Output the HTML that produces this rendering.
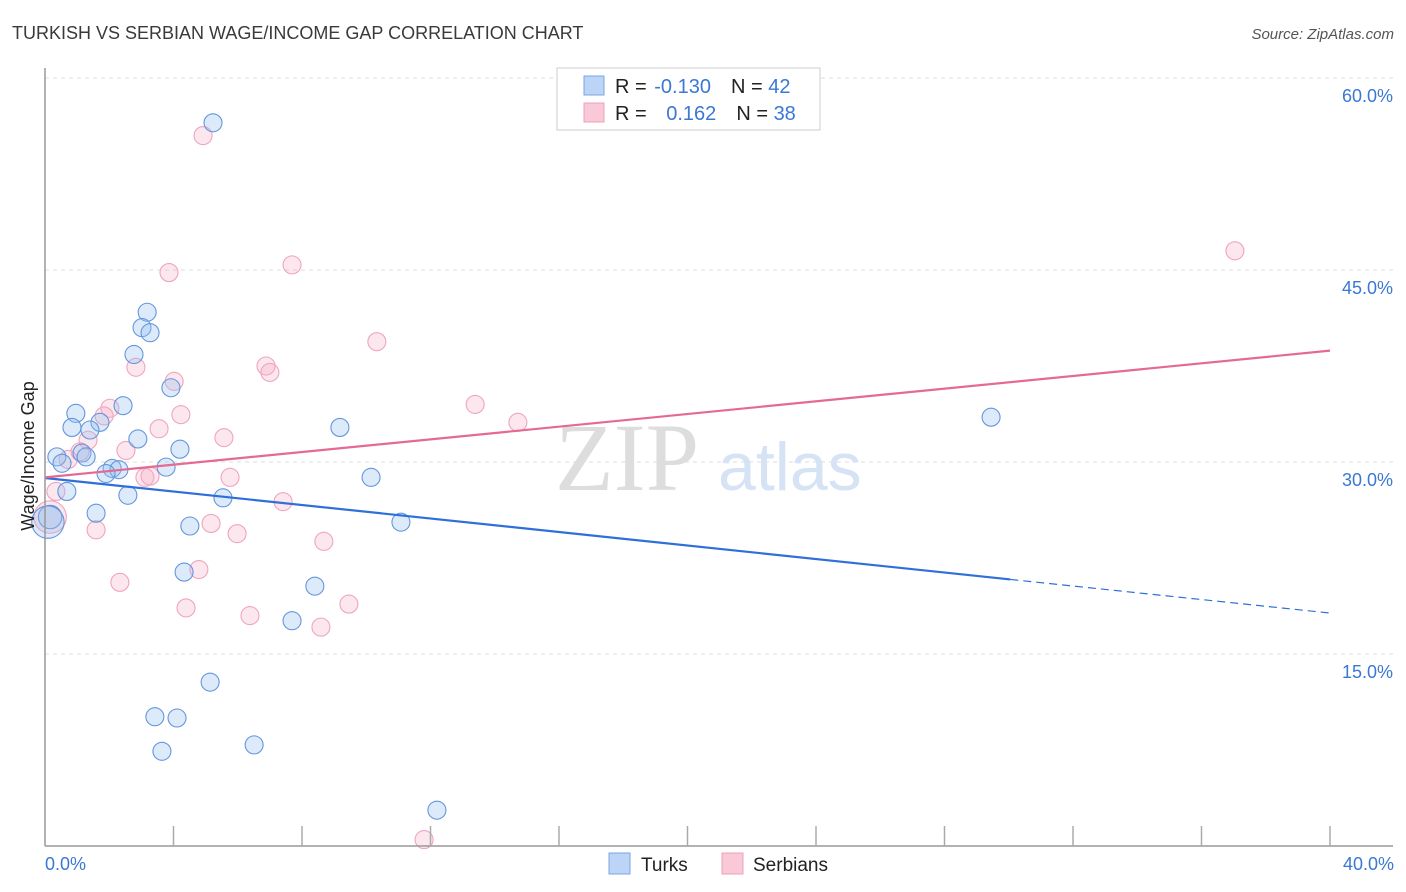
<!DOCTYPE html>
<html><head><meta charset="utf-8"><style>
body{margin:0;background:#fff;font-family:"Liberation Sans",sans-serif;}
svg{display:block}
</style></head><body>
<svg width="1406" height="892" xmlns="http://www.w3.org/2000/svg">
<text x="12" y="39" font-size="18" fill="#3a3a3a">TURKISH VS SERBIAN WAGE/INCOME GAP CORRELATION CHART</text>
<text x="1394" y="39" font-size="15" fill="#555" font-style="italic" text-anchor="end">Source: ZipAtlas.com</text>
<g id="grid"></g>
<text x="555" y="490" font-size="96" fill="#ddd" font-family="Liberation Serif,serif">ZIP</text>
<text x="718" y="490" font-size="68" fill="#d5e3f5">atlas</text>
<g id="pts"></g>
<g id="lines"></g>
<line x1="45" y1="68" x2="45" y2="846" stroke="#999" stroke-width="1.5"/>
<line x1="45" y1="846" x2="1393" y2="846" stroke="#999" stroke-width="1.5"/>
<g id="xt"></g>
<text transform="translate(34,456) rotate(-90)" font-size="18" fill="#222" text-anchor="middle">Wage/Income Gap</text>
<text x="45" y="870" font-size="18" fill="#3a78d4">0.0%</text>
<text x="1394" y="870" font-size="18" fill="#3a78d4" text-anchor="end">40.0%</text>
<g>
<rect x="557" y="68" width="263" height="62" fill="#fff" stroke="#ccc"/>
<rect x="584" y="76" width="20" height="19" fill="#bcd4f5" stroke="#7aa6e6"/>
<rect x="584" y="103" width="20" height="19" fill="#f9c9d8" stroke="#eea0b8"/>
<text x="615" y="93" font-size="20" fill="#222">R = <tspan fill="#3a78d4" dx="2">-0.130</tspan><tspan dx="20">N = </tspan><tspan fill="#3a78d4">42</tspan></text>
<text x="615" y="120" font-size="20" fill="#222">R = <tspan fill="#3a78d4" dx="14">0.162</tspan><tspan dx="20">N = </tspan><tspan fill="#3a78d4">38</tspan></text>
</g>
<g><rect x="609" y="853" width="21" height="21" fill="#bcd4f5" stroke="#7aa6e6"/><text x="641" y="871" font-size="19" fill="#222">Turks</text></g>
<g><rect x="722" y="853" width="21" height="21" fill="#f9c9d8" stroke="#eea0b8"/><text x="753" y="871" font-size="19" fill="#222">Serbians</text></g>
</svg>
<script>
const yTicks=[15,30,45,60];
const xTicks=[4,8,12,16,20,24,28,32,36,40];
const turksX=[5.23,3.18,3.02,3.27,2.77,3.92,2.43,0.96,1.71,0.84,1.40,2.89,4.20,0.37,1.15,1.28,0.53,3.77,2.09,2.30,1.90,0.68,2.58,5.54,1.59,0.16,0.09,4.51,11.08,9.18,10.15,29.45,4.33,8.40,7.69,5.14,3.42,4.11,3.64,6.51,12.20];
const turksY=[56.5,41.7,40.5,40.1,38.4,35.8,34.4,33.8,33.1,32.7,32.5,31.8,31.0,30.4,30.7,30.4,29.9,29.6,29.5,29.4,29.1,27.7,27.4,27.2,26.0,25.7,25.3,25.0,25.3,32.7,28.8,33.5,21.4,20.3,17.6,12.8,10.1,10.0,7.4,7.9,2.8];
const turksSize=[1,1,1,1,1,1,1,1,1,1,1,1,1,1,1,1,1,1,1,1,1,1,1,1,1,1.3,1.8,1,1,1,1,1,1,1,1,1,1,1,1,1,1];
const serbX=[4.92,3.86,7.69,37.04,10.33,2.83,6.88,7.00,4.02,13.39,4.23,2.02,1.84,14.72,3.55,5.57,1.34,2.52,1.09,0.72,3.11,3.27,5.76,0.34,7.41,5.17,0.16,5.98,1.59,8.68,4.79,2.33,4.39,9.46,6.38,8.59,11.80];
const serbY=[55.5,44.8,45.4,46.5,39.4,37.4,37.5,37.0,36.3,34.5,33.7,34.2,33.6,33.1,32.6,31.9,31.7,30.9,30.8,30.2,28.8,28.9,28.8,27.7,26.9,25.2,25.7,24.4,24.7,23.8,21.6,20.6,18.6,18.9,18.0,17.1,0.5];
const serbSize=[1,1,1,1,1,1,1,1,1,1,1,1,1,1,1,1,1,1,1,1,1,1,1,1,1,1,1.8,1,1,1,1,1,1,1,1,1,1];
const turkTrend=[28.75,18.2];
const serbTrend=[28.8,38.7];
const turkSolidEnd=30.05;
const NS="http://www.w3.org/2000/svg";
const X=v=>45+v/40*1285;
const Y=v=>846-v/15*192;
function mk(t,a){const e=document.createElementNS(NS,t);for(const k in a)e.setAttribute(k,a[k]);return e;}
const grid=document.getElementById('grid');
yTicks.forEach(t=>{
 const l=mk('line',{x1:45,x2:1393,y1:Y(t),y2:Y(t),stroke:'#ddd','stroke-dasharray':'4,4'});
 
 
 grid.appendChild(l);
 const tx=mk('text',{x:1393,y:Y(t)+24,'font-size':18,fill:'#3a78d4','text-anchor':'end'});
 tx.textContent=t.toFixed(1)+'%';
 
 
 grid.appendChild(tx);
});
const xt=document.getElementById('xt');
xTicks.forEach(t=>{
 const l=mk('line',{x1:X(t),x2:X(t),y1:826,y2:846,stroke:'#aaa','stroke-width':1.5});
 
 
 xt.appendChild(l);
});
const pts=document.getElementById('pts');
function dots(xs,ys,ss,fill,stroke,name){
 xs.forEach((x,i)=>{
  const c=mk('circle',{cx:X(x),cy:Y(ys[i]),r:9*ss[i],fill:fill,stroke:stroke,'stroke-width':1.1});
  
  
  pts.appendChild(c);
 });
}
dots(serbX,serbY,serbSize,'rgba(246,170,195,0.28)','#efa5bd','serbians-point');
dots(turksX,turksY,turksSize,'rgba(150,190,240,0.33)','#6496dd','turks-point');
const lines=document.getElementById('lines');
const tm=(turkTrend[1]-turkTrend[0])/40;
let l1=mk('line',{x1:X(0),y1:Y(turkTrend[0]),x2:X(turkSolidEnd),y2:Y(turkTrend[0]+tm*turkSolidEnd),stroke:'#2f6fd8','stroke-width':2.2});


lines.appendChild(l1);
let l2=mk('line',{x1:X(turkSolidEnd),y1:Y(turkTrend[0]+tm*turkSolidEnd),x2:X(40),y2:Y(turkTrend[1]),stroke:'#2f6fd8','stroke-width':1.2,'stroke-dasharray':'8,5'});


lines.appendChild(l2);
let l3=mk('line',{x1:X(0),y1:Y(serbTrend[0]),x2:X(40),y2:Y(serbTrend[1]),stroke:'#e46a92','stroke-width':2.2});


lines.appendChild(l3);
</script>
</body></html>
